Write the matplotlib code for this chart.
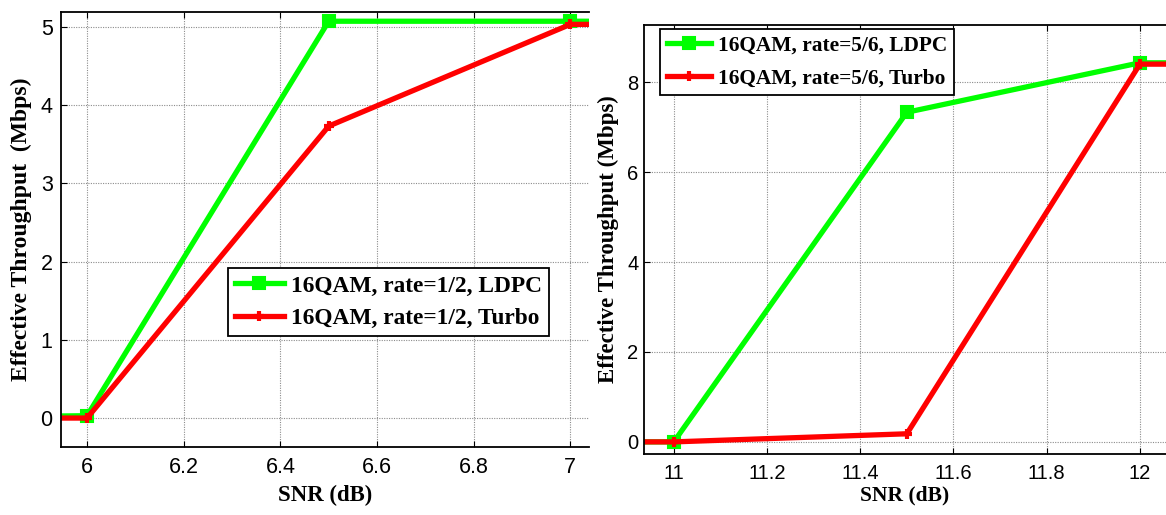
from matplotlib import pyplot as plt
import numpy as np

# left panel: 16QAM rate 1/2
snr_half = [5.5, 6.0, 6.5, 7.0, 7.5]
ldpc_half = [0.0, 0.03, 5.07, 5.07, 5.07]
turbo_half = [0.0, 0.0, 3.73, 5.03, 5.03]

# right panel: 16QAM rate 5/6
snr_56 = [10.5, 11.0, 11.5, 12.0, 12.5]
ldpc_56 = [0.0, 0.0, 7.33, 8.43, 8.43]
turbo_56 = [0.0, 0.0, 0.18, 8.40, 8.40]

xticks_half = [6, 6.2, 6.4, 6.6, 6.8, 7]
yticks_half = [0, 1, 2, 3, 4, 5]
xticks_56 = [11, 11.2, 11.4, 11.6, 11.8, 12]
yticks_56 = [0, 2, 4, 6, 8]

serif = 'Liberation Serif'
sans = 'Liberation Sans'

fig = plt.figure(figsize=(11.66, 5.15), dpi=100)
ax1 = fig.add_axes([0.0523, 0.132, 0.453, 0.845])
ax2 = fig.add_axes([0.5523, 0.1184, 0.4477, 0.833])


def style(ax, xt, yt, tsize, lsize, ypad, xlpad):
    ax.set_xticks(xt)
    ax.set_yticks(yt)
    ax.set_xticklabels([('%g' % v) for v in xt], fontfamily=sans, fontsize=tsize)
    ax.set_yticklabels([('%g' % v) for v in yt], fontfamily=sans, fontsize=tsize)
    ax.tick_params(direction='in', top=True, length=4, width=0.8)
    ax.tick_params(axis='x', pad=7)
    ax.tick_params(axis='y', pad=ypad)
    ax.grid(True, linestyle=(0, (1, 1.2)), color='0.55', linewidth=0.8)
    ax.spines['right'].set_visible(False)
    for s in ['left', 'bottom', 'top']:
        ax.spines[s].set_linewidth(1.3)
    ax.set_xlabel('SNR (dB)', fontfamily=serif, fontweight='bold', fontsize=lsize, labelpad=xlpad)


#left plot
ax1.plot(snr_half, ldpc_half, color='#00ff00', lw=3.8, marker='s', ms=9, mew=1.5,
         label='16QAM, rate=1/2, LDPC')
ax1.plot(snr_half, turbo_half, color='#ff0000', lw=3.8, marker='+', ms=7, mew=3,
         label='16QAM, rate=1/2, Turbo')
ax1.set_xlim(5.946, 7.039)
ax1.set_ylim(-0.37, 5.19)
style(ax1, xticks_half, yticks_half, 15.5, 16.5, 6, 5)
ax1.set_ylabel('Effective Throughput  (Mbps)', fontfamily=serif, fontweight='bold',
               fontsize=17, labelpad=6)
leg1 = ax1.legend(loc='upper left', bbox_to_anchor=(0.316, 0.411), fancybox=False,
                  edgecolor='black', framealpha=1, borderaxespad=0, handlelength=2.1,
                  handletextpad=0.3, labelspacing=0.47, borderpad=0.3,
                  prop={'family': serif, 'weight': 'bold', 'size': 16.8})
leg1.get_frame().set_linewidth(1.3)

#right plot
ax2.plot(snr_56, ldpc_56, color='#00ff00', lw=3.8, marker='s', ms=9, mew=1.5,
         label='16QAM, rate=5/6, LDPC')
ax2.plot(snr_56, turbo_56, color='#ff0000', lw=3.8, marker='+', ms=7, mew=3,
         label='16QAM, rate=5/6, Turbo')
ax2.set_xlim(10.936, 12.056)
ax2.set_ylim(-0.27, 9.27)
style(ax2, xticks_56, yticks_56, 14.5, 15.5, 4, 2)
ax2.set_ylabel('Effective Throughput (Mbps)', fontfamily=serif, fontweight='bold',
               fontsize=16.5, labelpad=6)
leg2 = ax2.legend(loc='upper left', bbox_to_anchor=(0.031, 0.991), fancybox=False,
                  edgecolor='black', framealpha=1, borderaxespad=0, handlelength=2.1,
                  handletextpad=0.3, labelspacing=0.6, borderpad=0.3,
                  prop={'family': serif, 'weight': 'bold', 'size': 15.4})
leg2.get_frame().set_linewidth(1.3)

plt.savefig('out.png', dpi=100)
